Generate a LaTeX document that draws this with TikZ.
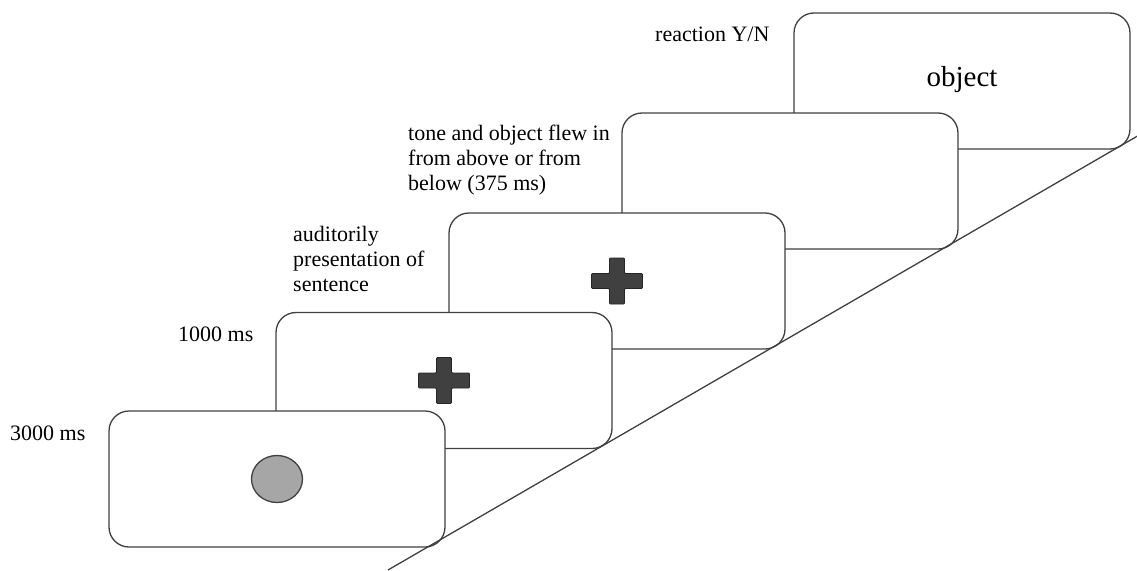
\documentclass[tikz,border=0pt]{standalone}
\usepackage{fontspec}
\usetikzlibrary{shapes.geometric}
\setmainfont{Liberation Serif}
\definecolor{edge}{HTML}{404040}
\definecolor{dot}{HTML}{A6A6A6}
\begin{document}
\begin{tikzpicture}[x=1pt,y=-1pt,
  card/.style={draw=edge, line width=1.3pt, fill=white, rounded corners=20pt,
    minimum width=336pt, minimum height=136pt, inner sep=0pt},
  lbl/.style={font=\fontsize{22}{25}\selectfont, align=left, inner sep=0pt, anchor=base west},
  crossshape/.style={fill=edge, draw=black!85, line width=0.8pt, rounded corners=1pt},
  diag/.style={draw=edge, line width=1.3pt}]
\useasboundingbox (0,0) rectangle (1137,570);
% cards, back to front
\node[card] (c5) at (962,81) {};
\node[card] (c4) at (790,181) {};
\node[card] (c3) at (617,281) {};
\node[card] (c2) at (444,380.5) {};
\node[card] (c1) at (277,479) {};
% contents
\node[font=\fontsize{29}{32}\selectfont, inner sep=0pt] (obj) at (962,80) {object};
\foreach \c in {c2,c3}{
  \path[crossshape] (\c.center)
    ++(-7.5,-23) -- ++(15,0) -- ++(0,15.5) -- ++(18,0) -- ++(0,15) -- ++(-18,0)
    -- ++(0,15.5) -- ++(-15,0) -- ++(0,-15.5) -- ++(-18,0) -- ++(0,-15) -- ++(18,0) -- cycle;
}
\node[draw=edge, fill=dot, line width=1.3pt, ellipse, minimum width=51pt, minimum height=47pt, inner sep=0pt] (circ) at (c1.center) {};
% labels
\node[lbl] (t1) at (10,440) {3000 ms};
\node[lbl] (t2) at (178,341) {1000 ms};
\node[lbl] (t3) at (293,291) {auditorily\\presentation of\\sentence};
\node[lbl] (t4) at (408,190) {tone and object flew in\\from above or from\\below (375 ms)};
\node[lbl] (t5) at (655,41) {reaction Y/N};
% diagonal
\coordinate (la) at (388,570);
\coordinate (lb) at (1137,136.3);
\draw[diag] (la) -- (lb);
\end{tikzpicture}
\end{document}
